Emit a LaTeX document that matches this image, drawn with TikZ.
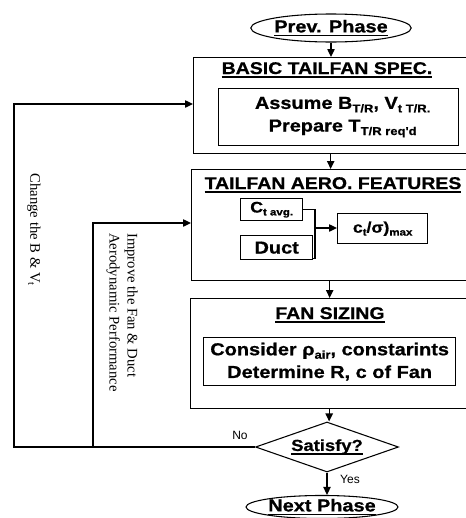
\documentclass[tikz,border=0pt]{standalone}
\usepackage{fontspec}
\setmainfont{Liberation Serif}
\newfontfamily\hv[FakeStretch=1.15,FakeBold=0.8]{Liberation Sans}
\newfontfamily\hvr{Liberation Sans}
\usetikzlibrary{arrows.meta,shapes.geometric,calc}
\newcommand\hul[1]{\setbox0\hbox{#1}\leavevmode\rlap{\vrule height -1.6pt depth 2.8pt width \wd0}\box0}
\newcommand\sub[1]{\raisebox{-2.6pt}{\fontsize{8.5}{9}\selectfont #1}}
\newcommand\ssub[1]{\raisebox{-2.2pt}{\fontsize{7.5}{8}\selectfont #1}}
\begin{document}
\begin{tikzpicture}[x=0.75pt,y=-0.75pt,
  box/.style={draw,line width=1pt,anchor=north west,inner sep=0},
  arr/.style={-{Triangle[length=6pt,width=5.5pt]},line width=1pt},
  ln/.style={line width=1pt},
  head/.style={font=\hv\bfseries\fontsize{12.7}{15}\selectfont,inner sep=0,anchor=base},
  body/.style={font=\hv\bfseries\fontsize{13}{17}\selectfont,align=center},
  small/.style={font=\hv\bfseries\fontsize{11.5}{14}\selectfont},
  term/.style={ellipse,draw,line width=0.8pt,inner sep=0,font=\hv\bfseries\fontsize{13}{15}\selectfont},
  lbl/.style={font=\fontsize{11}{13.5}\selectfont,rotate=-90,inner sep=0},
  yn/.style={font=\hvr\fontsize{9}{10}\selectfont,inner sep=0},
]
\useasboundingbox (0,0) rectangle (465,518);
% terminals
\node[term,minimum width=96pt,minimum height=21pt] (prev) at (331,28) {\hul{Prev. Phase}};
\node[term,minimum width=96.75pt,minimum height=16.5pt] (next) at (322,507) {\hul{Next Phase}};
% basic
\node[box,minimum width=205.5pt,minimum height=72pt] (basic) at (193,57) {};
\node[head] (h1) at (327,74) {\hul{BASIC TAILFAN SPEC.}};
\node[box,body,minimum width=180pt,minimum height=42.75pt] (binner) at (218,88)
  {\hspace{6pt}Assume B\sub{T/R}, V\sub{t T/R.}\\\hspace{6pt}Prepare T\sub{T/R req'd}};
% tailfan
\node[box,minimum width=207pt,minimum height=83.25pt] (tail) at (191,169) {};
\node[head] (h2) at (333,189) {\hul{TAILFAN AERO. FEATURES}};
\node[box,body,small,minimum width=46.5pt,minimum height=16.5pt] (cbox) at (240,198) {C\ssub{t avg.}};
\node[box,body,minimum width=54pt,minimum height=18pt] (duct) at (240,235) {Duct};
\node[box,body,small,minimum width=67.5pt,minimum height=22.5pt] (maxb) at (337,213) {c\ssub{t}/σ)\ssub{max}};
% fan
\node[box,minimum width=207.75pt,minimum height=82.5pt] (fan) at (190,298) {};
\node[head] (h3) at (330,319) {\hul{FAN SIZING}};
\node[box,body,minimum width=189pt,minimum height=36pt] (finner) at (203,337)
  {Consider ρ\sub{air}, constarints\\Determine R, c of Fan};
% decision
\node[diamond,draw,line width=0.8pt,inner sep=0,minimum width=107.25pt,minimum height=37.5pt,aspect=2.86,
  font=\hv\bfseries\fontsize{12}{14}\selectfont] (sat) at (327,447) {\hul{Satisfy?}};
\node[yn] (no) at (240,435) {No};
\node[yn] (yes) at (350,479) {Yes};
% main arrows
\draw[arr] (prev.south) -- (prev.south |- basic.north);
\draw[arr] (basic.south) -- (basic.south |- tail.north);
\draw[arr] (tail.south) -- (tail.south |- fan.north);
\draw[arr] (fan.south) -- (fan.south |- sat.north);
\draw[arr] (sat.south) -- (sat.south |- next.north);
% inner tailfan connectors
\coordinate (jn) at (315,228);
\coordinate (dj) at ($(duct.south east)+(0,-2)$);
\draw[ln] (cbox.east) -| (jn |- dj) -- (dj);
\draw[arr] (jn) -- (jn -| maxb.west);
% loops
\coordinate (c1) at (14,104);
\coordinate (c2) at (93,223);
\draw[arr] (sat.west) -| (c1) -- (c1 -| basic.west);
\draw[arr] (sat.west -| c2) -- (c2) -- (c2 -| tail.west);
% labels
\node[lbl] (chg) at (34,230) {Change the B \& V\textsubscript{t}};
\node[lbl,align=left,anchor=north west] (imp) at (138,233) {Improve the Fan \& Duct\\Aerodynamic Performance};
\end{tikzpicture}
\end{document}
